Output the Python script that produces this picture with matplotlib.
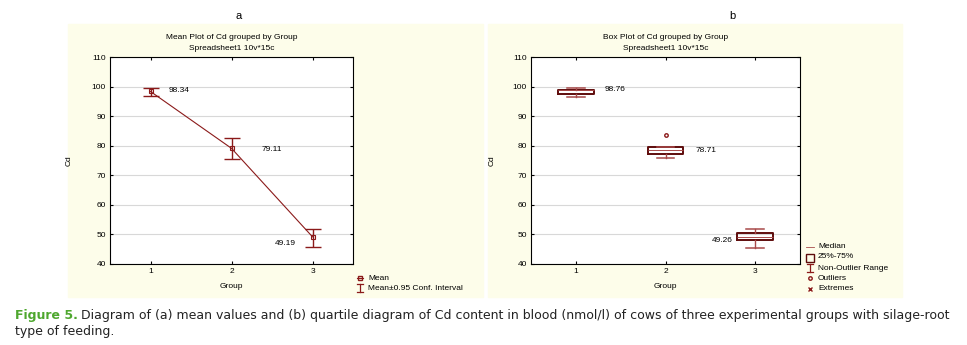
import matplotlib
matplotlib.use("Agg")
import matplotlib.pyplot as plt
from matplotlib.patches import Rectangle
from matplotlib.lines import Line2D

# data
groups = [1, 2, 3]
means = [98.34, 79.11, 49.19]
ci_low = [96.9, 75.5, 45.7]
ci_high = [99.6, 82.7, 51.8]

medians = [98.76, 78.71, 49.26]
q1 = [97.5, 77.2, 48.2]
q3 = [98.95, 79.7, 50.5]
whis_lo = [96.5, 75.8, 45.4]
whis_hi = [99.5, 79.7, 51.8]
outliers = [[], [83.6], []]

yticks = [40, 50, 60, 70, 80, 90, 100, 110]
caption = ("Diagram of (a) mean values and (b) quartile diagram of Cd content in blood (nmol/l) "
           "of cows of three experimental groups with silage-root")
caption2 = "type of feeding."

W, H = 967, 345
red = "#8b1a1a"
dark = "#5e0c0c"
light = "#a84a4a"
cream = "#fdfdea"
plt.rcParams['font.family'] = ['Liberation Sans', 'DejaVu Sans']

fig = plt.figure(figsize=(W / 100, H / 100), dpi=100)

def px(x0, y0, x1, y1):
    return [x0 / W, 1 - y1 / H, (x1 - x0) / W, (y1 - y0) / H]

#cream panels
for x0, x1 in [(68, 483), (488, 902)]:
    fig.patches.append(Rectangle((x0 / W, 1 - 297 / H), (x1 - x0) / W, 273 / H,
                                 transform=fig.transFigure, color=cream, zorder=-5))

def setup(ax, title):
    ax.set_xlim(0.5, 3.5)
    ax.set_ylim(40, 110)
    ax.set_xticks(groups)
    ax.set_yticks(yticks)
    ax.tick_params(labelsize=6, length=2, direction='in', top=True, right=True, pad=3)
    ax.yaxis.grid(True, color="#d8d8d8", lw=0.8)
    ax.set_axisbelow(True)
    for s in ax.spines.values():
        s.set_linewidth(0.8)
    ax.set_xlabel("Group", fontsize=6, labelpad=6)
    ax.set_ylabel("Cd", fontsize=6, labelpad=12)
    ax.set_title(title + "\nSpreadsheet1 10v*15c", fontsize=6, linespacing=1.9, pad=5)

#(a) mean plot
ax1 = fig.add_axes(px(110, 57, 353, 264))
setup(ax1, "Mean Plot of Cd grouped by Group")
ax1.plot(groups, means, color=red, lw=0.8, marker='s', ms=3, mfc='none', mew=0.8)
err = [[m - lo for m, lo in zip(means, ci_low)], [hi - m for m, hi in zip(means, ci_high)]]
ax1.errorbar(groups, means, yerr=err, fmt='none', ecolor=red, elinewidth=1.0, capsize=6, capthick=1.0)
ax1.text(1.22, 98.6, "98.34", fontsize=6, va='center')
ax1.text(2.37, 78.7, "79.11", fontsize=6, va='center')
ax1.text(2.8, 47.1, "49.19", fontsize=6, va='center', ha='right')
ax1.set_ylabel("Cd", fontsize=6, labelpad=14)

fig.text(239 / W, 1 - 16 / H, "a", fontsize=8, ha='center', va='center')
fig.add_artist(Line2D([360 / W], [1 - 278 / H], marker='s', ms=2.5, mfc='none', mec=red, color=red))
fig.add_artist(Line2D([357 / W, 363 / W], [1 - 278 / H] * 2, color=red, lw=0.8))
fig.text(368 / W, 1 - 278 / H, "Mean", fontsize=6, va='center')
fig.add_artist(Line2D([360 / W] * 2, [1 - 284 / H, 1 - 292 / H], color=red, lw=0.9))
fig.add_artist(Line2D([357 / W, 363 / W], [1 - 284 / H] * 2, color=red, lw=0.9))
fig.add_artist(Line2D([357 / W, 363 / W], [1 - 292 / H] * 2, color=red, lw=0.9))
fig.text(368 / W, 1 - 288 / H, "Mean\u00b10.95 Conf. Interval", fontsize=6, va='center')

#(b) box plot
ax2 = fig.add_axes(px(531, 57, 800, 264))
setup(ax2, "Box Plot of Cd grouped by Group")
stats = []
for i in range(3):
    stats.append(dict(med=medians[i], q1=q1[i], q3=q3[i], whislo=whis_lo[i],
                      whishi=whis_hi[i], fliers=outliers[i]))
ax2.bxp(stats, positions=groups, widths=0.4, showfliers=True, manage_ticks=False,
        boxprops=dict(color=dark, lw=1.4), whiskerprops=dict(color=light, lw=1.0),
        capprops=dict(color=light, lw=1.1), medianprops=dict(color=light, lw=0.7),
        flierprops=dict(marker='o', ms=2.5, mfc='none', mec=red))
ax2.text(1.32, 98.9, "98.76", fontsize=6, va='center')
ax2.text(2.33, 78.3, "78.71", fontsize=6, va='center')
ax2.text(2.75, 47.9, "49.26", fontsize=6, va='center', ha='right')

fig.text(732 / W, 1 - 16 / H, "b", fontsize=8, ha='center', va='center')
lx = 810 / W
fig.add_artist(Line2D([806 / W, 814 / W], [1 - 247 / H] * 2, color=light, lw=0.6))
fig.add_artist(Rectangle((806 / W, 1 - 262 / H), 8 / W, 8 / H, fill=False, ec=dark, lw=1.0,
                         transform=fig.transFigure))
fig.add_artist(Line2D([lx] * 2, [1 - 264 / H, 1 - 272 / H], color=red, lw=0.9))
fig.add_artist(Line2D([807 / W, 813 / W], [1 - 264 / H] * 2, color=red, lw=0.9))
fig.add_artist(Line2D([807 / W, 813 / W], [1 - 272 / H] * 2, color=red, lw=0.9))
fig.add_artist(Line2D([lx], [1 - 278 / H], marker='o', ms=2.5, mfc='none', mec=red))
fig.add_artist(Line2D([lx], [1 - 289 / H], marker='x', ms=2.5, mec=red))
for y, t in zip([247, 257, 268, 278, 289],
                ["Median", "25%-75%", "Non-Outlier Range", "Outliers", "Extremes"]):
    fig.text(818 / W, 1 - y / H, t, fontsize=6, va='center')

#caption
cap_font = ['Liberation Sans Narrow', 'DejaVu Sans']
t = fig.text(15 / W, 1 - 316 / H, "Figure 5.", fontsize=9, color="#4ea72e",
             fontweight='bold', family=cap_font, va='center')
fig.canvas.draw()
bb = t.get_window_extent()
fig.text(bb.x1 / W + 3 / W, 1 - 316 / H, caption, fontsize=9, color="#222222",
         family=cap_font, va='center')
fig.text(15 / W, 1 - 331 / H, caption2, fontsize=9, color="#222222", family=cap_font, va='center')

fig.savefig("out.png", dpi=100, facecolor='white')
